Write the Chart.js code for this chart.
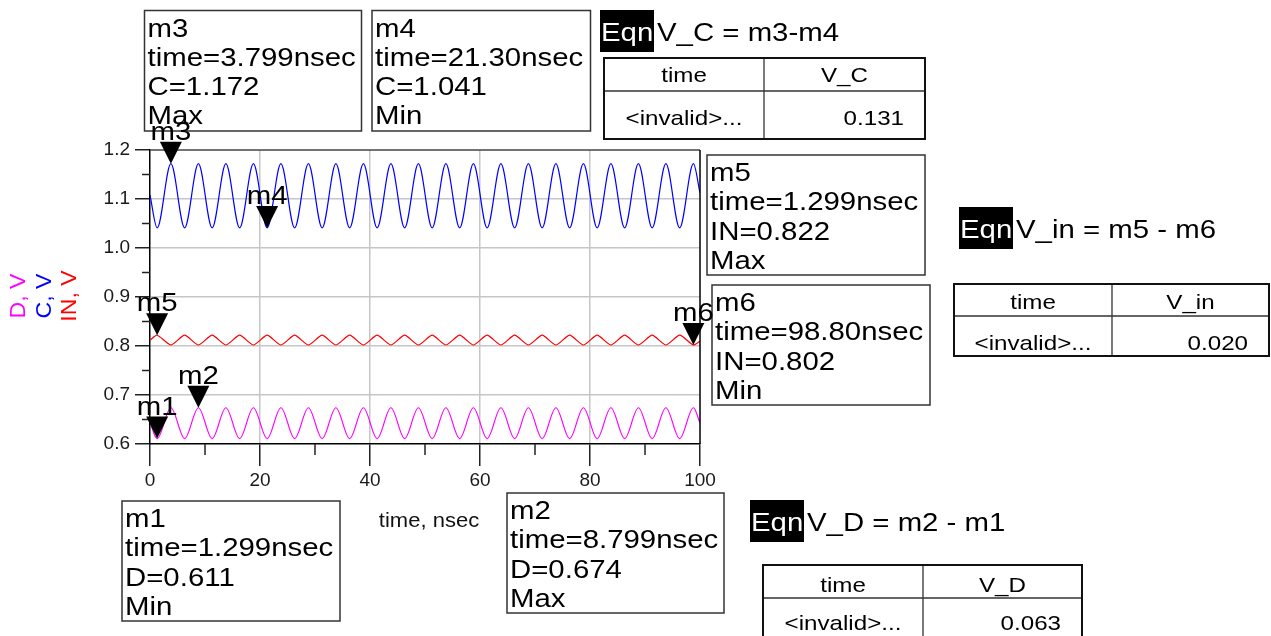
<!DOCTYPE html>
<html>
<head>
<meta charset="utf-8">
<script src="https://cdn.jsdelivr.net/npm/chart.js@4/dist/chart.umd.min.js"></script>
<style>
  html, body { margin: 0; padding: 0; background: #fff; }
  canvas { display: block; }
</style>
</head>
<body>
<canvas id="plot" width="1271" height="636"></canvas>
<script>
// time samples (nsec) at the start, every read extreme, and the end
const times = [0,
  1.3, 3.8, 6.3, 8.8, 11.3, 13.8, 16.3, 18.8, 21.3, 23.8,
  26.3, 28.8, 31.3, 33.8, 36.3, 38.8, 41.3, 43.8, 46.3, 48.8,
  51.3, 53.8, 56.3, 58.8, 61.3, 63.8, 66.3, 68.8, 71.3, 73.8,
  76.3, 78.8, 81.3, 83.8, 86.3, 88.8, 91.3, 93.8, 96.3, 98.8,
  100];

const seriesC = [1.108,
  1.041, 1.172, 1.041, 1.172, 1.041, 1.172, 1.041, 1.172, 1.041, 1.172,
  1.041, 1.172, 1.041, 1.172, 1.041, 1.172, 1.041, 1.172, 1.041, 1.172,
  1.041, 1.172, 1.041, 1.172, 1.041, 1.172, 1.041, 1.172, 1.041, 1.172,
  1.041, 1.172, 1.041, 1.172, 1.041, 1.172, 1.041, 1.172, 1.041, 1.172,
  1.112];

const seriesIN = [0.812,
  0.822, 0.802, 0.822, 0.802, 0.822, 0.802, 0.822, 0.802, 0.822, 0.802,
  0.822, 0.802, 0.822, 0.802, 0.822, 0.802, 0.822, 0.802, 0.822, 0.802,
  0.822, 0.802, 0.822, 0.802, 0.822, 0.802, 0.822, 0.802, 0.822, 0.802,
  0.822, 0.802, 0.822, 0.802, 0.822, 0.802, 0.822, 0.802, 0.822, 0.802,
  0.810];

const seriesD = [0.644,
  0.611, 0.674, 0.611, 0.674, 0.611, 0.674, 0.611, 0.674, 0.611, 0.674,
  0.611, 0.674, 0.611, 0.674, 0.611, 0.674, 0.611, 0.674, 0.611, 0.674,
  0.611, 0.674, 0.611, 0.674, 0.611, 0.674, 0.611, 0.674, 0.611, 0.674,
  0.611, 0.674, 0.611, 0.674, 0.611, 0.674, 0.611, 0.674, 0.611, 0.674,
  0.643];

// markers
const markerNames  = ["m1", "m2", "m3", "m4", "m5", "m6"];
const markerTimes  = [1.299, 8.799, 3.799, 21.30, 1.299, 98.80];
const markerSeries = ["D", "D", "C", "C", "IN", "IN"];
const markerValues = [0.611, 0.674, 1.172, 1.041, 0.822, 0.802];
const markerKinds  = ["Min", "Max", "Max", "Min", "Max", "Min"];

// equations: name, first marker, second marker, separator
const eqnNames = ["V_C", "V_in", "V_D"];
const eqnPairs = [["m3", "m4"], ["m5", "m6"], ["m2", "m1"]];
const eqnSep   = ["-", " - ", " - "];

const xTicks = [0, 20, 40, 60, 80, 100];
const yTicks = [0.6, 0.7, 0.8, 0.9, 1.0, 1.1, 1.2];

/* ---------- layout of the annotations ---------- */
const boxPos = {
  m3: [144.5, 10.5, 217, 120.5],
  m4: [372, 10.5, 218.5, 120.5],
  m5: [707, 155, 218, 120],
  m6: [712, 285, 218, 120],
  m1: [122, 501, 218, 120],
  m2: [507, 493, 217, 120]
};
// eqn label: x, top ; table: x, y, w, h, colX, rowY, headBase, rowBase
const eqnPos = [
  { ex: 600, ey: 10, tab: [604, 58, 321, 81, 764, 91, 82, 125] },
  { ex: 959, ey: 207, tab: [954, 284, 315, 72, 1112, 316, 309, 350] },
  { ex: 750, ey: 500, tab: [763, 565, 319, 80, 923, 598, 592, 630] }
];

const FONT = '"Liberation Sans", Arial, sans-serif';

function txt(ctx, s, x, y, size, color, align, stretch) {
  ctx.save();
  ctx.font = size + "px " + FONT;
  ctx.fillStyle = color;
  ctx.textAlign = "left";
  ctx.textBaseline = "alphabetic";
  const w = ctx.measureText(s).width * stretch;
  let x0 = x;
  if (align === "center") x0 = x - w / 2;
  else if (align === "right") x0 = x - w;
  ctx.translate(x0, y);
  ctx.scale(stretch, 1);
  ctx.fillText(s, 0, 0);
  ctx.restore();
  return w;
}

function vtxt(ctx, s, x, y, size, color, stretch) {
  ctx.save();
  ctx.font = size + "px " + FONT;
  ctx.fillStyle = color;
  ctx.textBaseline = "alphabetic";
  ctx.translate(x, y);
  ctx.rotate(-Math.PI / 2);
  ctx.scale(stretch, 1);
  ctx.textAlign = "center";
  ctx.fillText(s, 0, 0);
  ctx.restore();
}

function near(a, b) { return Math.abs(a - b) < 1e-6; }

const extras = {
  id: "extras",
  afterDraw(chart) {
    const ctx = chart.ctx;
    const xs = chart.scales.x, ys = chart.scales.y;
    const L = chart.chartArea.left, R = chart.chartArea.right;
    const T = chart.chartArea.top, B = chart.chartArea.bottom;

    // frame
    ctx.save();
    ctx.lineWidth = 1.5;
    ctx.strokeStyle = "#444";
    ctx.beginPath(); ctx.moveTo(L, T); ctx.lineTo(R, T); ctx.stroke();
    ctx.strokeStyle = "#000";
    ctx.beginPath(); ctx.moveTo(R, T); ctx.lineTo(R, B); ctx.stroke();

    // minor ticks
    ctx.strokeStyle = "#222";
    for (let i = 0; i < xTicks.length - 1; i++) {
      const v = (xTicks[i] + xTicks[i + 1]) / 2;
      const px = xs.getPixelForValue(v);
      ctx.beginPath(); ctx.moveTo(px, B); ctx.lineTo(px, B + 11); ctx.stroke();
    }
    for (let i = 0; i < yTicks.length - 1; i++) {
      const v = (yTicks[i] + yTicks[i + 1]) / 2;
      const py = ys.getPixelForValue(v);
      ctx.beginPath(); ctx.moveTo(L - 8, py); ctx.lineTo(L, py); ctx.stroke();
    }
    ctx.restore();

    // axis titles
    txt(ctx, "time, nsec", 429, 527, 20, "#111", "center", 1.1);
    vtxt(ctx, "D, V", 25, 296, 22, "#ff00ff", 1.05);
    vtxt(ctx, "C, V", 51, 296, 22, "#0000ff", 1.05);
    vtxt(ctx, "IN, V", 76, 296, 22, "#ff0000", 1.05);

    // marker boxes
    markerNames.forEach((name, i) => {
      const [bx, by, bw, bh] = boxPos[name];
      ctx.save();
      ctx.fillStyle = "#fff";
      ctx.fillRect(bx, by, bw, bh);
      ctx.lineWidth = 1.5;
      ctx.strokeStyle = "#333";
      ctx.strokeRect(bx, by, bw, bh);
      ctx.restore();
      const lines = [
        name,
        "time=" + markerTimes[i].toPrecision(4) + "nsec",
        markerSeries[i] + "=" + markerValues[i].toFixed(3),
        markerKinds[i]
      ];
      lines.forEach((s, k) => txt(ctx, s, bx + 3, by + 26 + k * 29.3, 26, "#000", "left", 1.13));
    });

    // marker triangles + labels
    markerNames.forEach((name, i) => {
      const px = xs.getPixelForValue(markerTimes[i]);
      const py = ys.getPixelForValue(markerValues[i]);
      ctx.save();
      ctx.fillStyle = "#000";
      ctx.beginPath();
      ctx.moveTo(px - 11, py - 22);
      ctx.lineTo(px + 11, py - 22);
      ctx.lineTo(px, py);
      ctx.closePath();
      ctx.fill();
      ctx.restore();
      txt(ctx, name, px, py - 24, 26, "#000", "center", 1.13);
    });

    // equations and tables
    eqnNames.forEach((name, i) => {
      const p = eqnPos[i];
      const a = markerNames.indexOf(eqnPairs[i][0]);
      const b = markerNames.indexOf(eqnPairs[i][1]);
      const val = (markerValues[a] - markerValues[b]).toFixed(3);

      ctx.save();
      ctx.fillStyle = "#000";
      ctx.fillRect(p.ex, p.ey, 54, 42);
      ctx.restore();
      txt(ctx, "Eqn", p.ex + 1, p.ey + 31, 26, "#fff", "left", 1.13);
      txt(ctx, name + " = " + eqnPairs[i][0] + eqnSep[i] + eqnPairs[i][1],
          p.ex + 57, p.ey + 31, 26, "#000", "left", 1.13);

      const [tx, ty, tw, th, cx, ry, hb, rb] = p.tab;
      ctx.save();
      ctx.strokeStyle = "#333";
      ctx.lineWidth = 1.3;
      ctx.beginPath();
      ctx.moveTo(cx, ty); ctx.lineTo(cx, ty + th);
      ctx.moveTo(tx, ry); ctx.lineTo(tx + tw, ry);
      ctx.stroke();
      ctx.strokeStyle = "#111";
      ctx.lineWidth = 2;
      ctx.strokeRect(tx, ty, tw, th);
      ctx.restore();
      txt(ctx, "time", (tx + cx) / 2, hb, 21, "#000", "center", 1.15);
      txt(ctx, name, (cx + tx + tw) / 2, hb, 21, "#000", "center", 1.15);
      txt(ctx, "<invalid>...", (tx + cx) / 2, rb, 21, "#000", "center", 1.15);
      txt(ctx, val, tx + tw - 21, rb, 21, "#000", "right", 1.15);
    });
  }
};

function pts(vals) {
  return times.map((t, i) => ({ x: t, y: vals[i] }));
}

function gridColor(c, lo, hi) {
  const v = c.tick ? c.tick.value : null;
  if (v === null || near(v, lo) || near(v, hi)) return "rgba(0,0,0,0)";
  return "#c6c6c6";
}

new Chart(document.getElementById("plot"), {
  type: "line",
  data: {
    datasets: [
      { label: "D", data: pts(seriesD), borderColor: "#ff00ff", borderWidth: 1.2,
        pointRadius: 0, cubicInterpolationMode: "monotone", fill: false },
      { label: "C", data: pts(seriesC), borderColor: "#0000ff", borderWidth: 1.2,
        pointRadius: 0, cubicInterpolationMode: "monotone", fill: false },
      { label: "IN", data: pts(seriesIN), borderColor: "#ff0000", borderWidth: 1.2,
        pointRadius: 0, tension: 0.2, fill: false }
    ]
  },
  options: {
    responsive: false,
    animation: false,
    layout: { padding: { left: 100, right: 571, top: 150, bottom: 142 } },
    plugins: { legend: { display: false }, tooltip: { enabled: false } },
    scales: {
      x: {
        type: "linear",
        min: xTicks[0],
        max: xTicks[xTicks.length - 1],
        afterBuildTicks: s => { s.ticks = xTicks.map(v => ({ value: v })); },
        afterFit: s => { s.height = 50; },
        ticks: { font: { size: 19, family: FONT }, color: "#1a1a1a", padding: 3, maxRotation: 0 },
        grid: {
          color: c => gridColor(c, xTicks[0], xTicks[xTicks.length - 1]),
          lineWidth: 1.5,
          tickLength: 22,
          tickColor: "#222",
          tickWidth: 1.5
        },
        border: { color: "#000", width: 1.5 }
      },
      y: {
        min: yTicks[0],
        max: yTicks[yTicks.length - 1],
        afterBuildTicks: s => { s.ticks = yTicks.map(v => ({ value: v })); },
        afterFit: s => { s.width = 50; },
        ticks: {
          font: { size: 19, family: FONT },
          color: "#1a1a1a",
          padding: 5,
          callback: v => Number(v).toFixed(1)
        },
        grid: {
          color: c => gridColor(c, yTicks[0], yTicks[yTicks.length - 1]),
          lineWidth: 1.5,
          tickLength: 15,
          tickColor: "#222",
          tickWidth: 1.5
        },
        border: { color: "#000", width: 1.5 }
      }
    }
  },
  plugins: [extras]
});
</script>
</body>
</html>
